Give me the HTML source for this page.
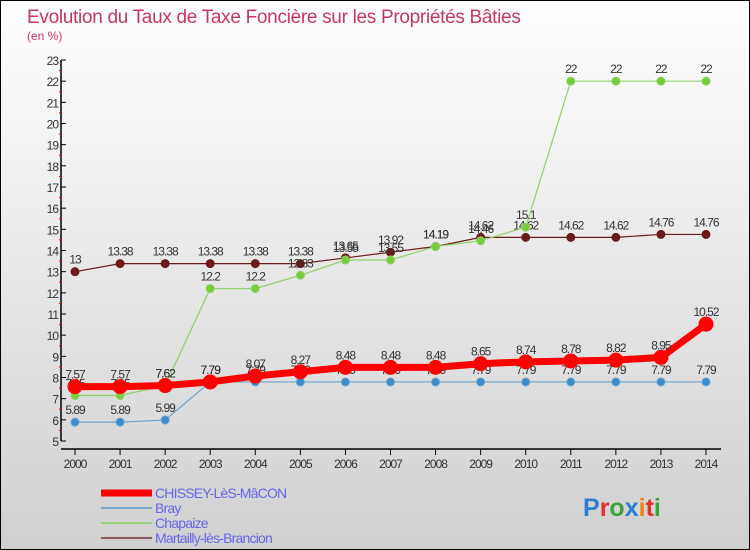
<!DOCTYPE html>
<html><head><meta charset="utf-8">
<style>
body{margin:0;}
#wrap{width:748px;height:548px;border:1px solid #000;background:linear-gradient(#ffffff,#d0d0d0);position:relative;font-family:"Liberation Sans",sans-serif;overflow:hidden;}
</style></head>
<body>
<div id="wrap">
<svg id="chart" width="748" height="548"></svg>
</div>
<script>
const years=[2000,2001,2002,2003,2004,2005,2006,2007,2008,2009,2010,2011,2012,2013,2014];
const chissey=[7.57,7.57,7.62,7.79,8.07,8.27,8.48,8.48,8.48,8.65,8.74,8.78,8.82,8.95,10.52];
const bray=[5.89,5.89,5.99,7.79,7.79,7.79,7.79,7.79,7.79,7.79,7.79,7.79,7.79,7.79,7.79];
const chapaize=[7.15,7.15,7.62,12.2,12.2,12.83,13.55,13.55,14.19,14.46,15.1,22,22,22,22];
const martailly=[13,13.38,13.38,13.38,13.38,13.38,13.65,13.92,14.19,14.62,14.62,14.62,14.62,14.76,14.76];
const yTicks=[5,6,7,8,9,10,11,12,13,14,15,16,17,18,19,20,21,22,23];
const seriesNames=["CHISSEY-LèS-MâCON","Bray","Chapaize","Martailly-lès-Brancion"];

const NS="http://www.w3.org/2000/svg";
const svg=document.getElementById('chart');
function X(i){return 74+i*(705-74)/(years.length-1);}
function Y(v){return 440-(v-5)*(440-59)/18;}
function mk(t,a,p){const e=document.createElementNS(NS,t);for(const k in a)e.setAttribute(k,a[k]);(p||svg).appendChild(e);return e;}
function fmt(v){return String(v);}

let t=mk('text',{x:26,y:22,'font-size':19,fill:'#c8365f','letter-spacing':'-0.3'});t.textContent="Evolution du Taux de Taxe Foncière sur les Propriétés Bâties";

t=mk('text',{x:26,y:39,'font-size':12,fill:'#c8365f'});t.textContent="(en %)";


let ax=mk('line',{x1:60,y1:Y(23),x2:60,y2:Y(5),stroke:'#000','stroke-width':1.5});

ax=mk('line',{x1:60,y1:Y(5)+8,x2:720,y2:Y(5)+8,stroke:'#000','stroke-width':1.5});

yTicks.forEach(v=>{
  mk('line',{x1:60,y1:Y(v),x2:65,y2:Y(v),stroke:'#000'});
  if(v<23)mk('line',{x1:58,y1:Y(v+0.5),x2:61,y2:Y(v+0.5),stroke:'#e00'});
  const l=mk('text',{x:57,y:Y(v)+5,'font-size':12,fill:'#333','text-anchor':'end','letter-spacing':'-1'});l.textContent=v;
  
});
years.forEach((yr,i)=>{
  mk('line',{x1:X(i),y1:Y(5)+8,x2:X(i),y2:Y(5)+14,stroke:'#000'});
  const l=mk('text',{x:X(i),y:Y(5)+27,'font-size':12,fill:'#333','text-anchor':'middle','letter-spacing':'-1'});l.textContent=yr;
  
});

function series(data,color,w,r,dotFill,name){
  const g=mk('g',{});
  mk('polyline',{points:data.map((v,i)=>X(i)+','+Y(v)).join(' '),fill:'none',stroke:color,'stroke-width':w},g);
  data.forEach((v,i)=>{
    const c=mk('circle',{cx:X(i),cy:Y(v),r:r,fill:dotFill,stroke:color,'stroke-width':1},g);
    
    const l=mk('text',{x:X(i),y:Y(v)-8,'font-size':12,fill:'#333','text-anchor':'middle','letter-spacing':'-1'},g);l.textContent=fmt(v);
    
  });
}
series(martailly,'#6b1a1a',1.2,4,'#6b1a1a','series-martailly');
series(chapaize,'#8fd16a',1.2,4,'#78cc3a','series-chapaize');
series(bray,'#6aa3cc',1.2,4,'#3a8ccc','series-bray');
series(chissey,'#f00',7,7,'#f00','series-chissey');

const lg=mk('g',{});
const lc=['#f00','#7aa8cc','#9ad07a','#8b5c5c'];const lw=[7,2,2,2];
seriesNames.forEach((n,i)=>{
  const y=492+i*15;
  const e=mk('g',{},lg);
  mk('line',{x1:100,y1:y,x2:151,y2:y,stroke:lc[i],'stroke-width':lw[i]},e);
  const l=mk('text',{x:154,y:y+5,'font-size':14,fill:'#6666ee','letter-spacing':'-0.8'},e);l.textContent=n;
});
const logo=mk('text',{x:582,y:515,'font-size':25,'font-weight':'bold'});
[['P','#2a7fcf'],['r','#e03030'],['o','#3aa33a'],['x','#2a7fcf'],['i','#f08020'],['t','#e03030'],['i','#3aa33a']].forEach(([c,f])=>{const s=mk('tspan',{fill:f},logo);s.textContent=c;});
</script>
</body></html>
